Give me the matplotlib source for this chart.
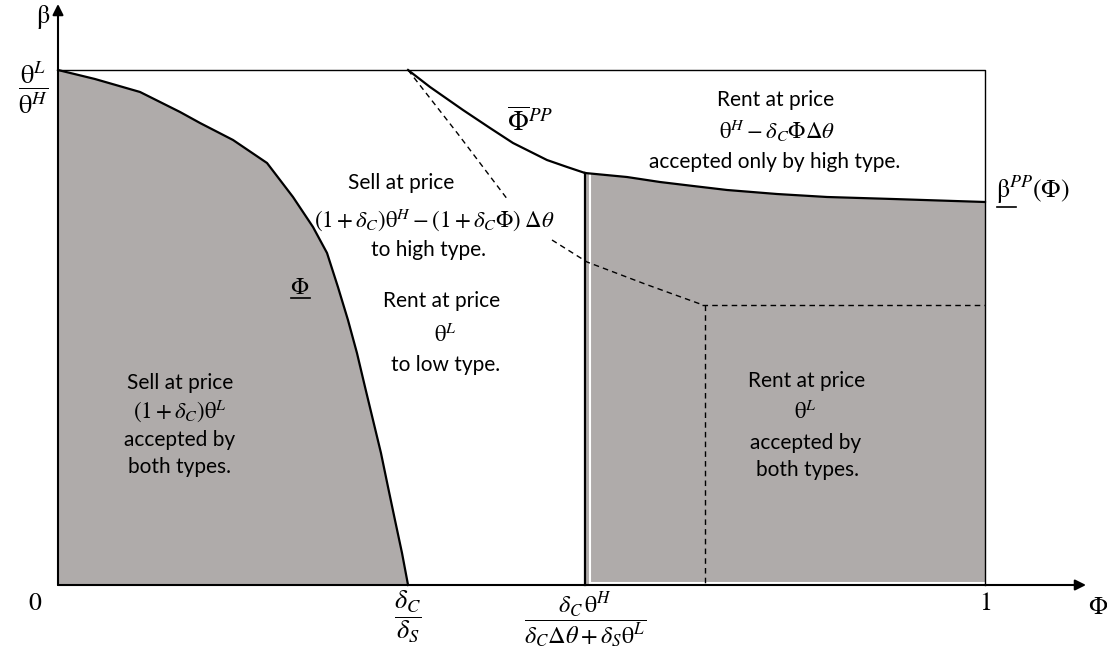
import matplotlib
matplotlib.use("Agg")
import matplotlib.pyplot as plt

plt.rcParams['mathtext.fontset'] = 'stix'
plt.rcParams['font.family'] = ['Lato', 'DejaVu Sans']

# values, Phi on x (0..1), beta on y (0..1 = thetaL/thetaH)
phi_low = [0.0, 0.0399, 0.0885, 0.1316, 0.1532, 0.1888, 0.2255, 0.2535, 0.2751, 0.2902,
           0.3020, 0.3128, 0.3225, 0.3312, 0.3398, 0.3484, 0.3560, 0.3635, 0.3711, 0.3776]
beta_low = [1.0, 0.9825, 0.9573, 0.9185, 0.8971, 0.8641, 0.8194, 0.7534, 0.6951, 0.6447,
            0.5786, 0.5146, 0.4505, 0.3845, 0.3204, 0.2563, 0.1903, 0.1262, 0.0621, 0.0]

phi_bar = [0.3776, 0.4013, 0.4369, 0.4660, 0.4908, 0.5275, 0.5491, 0.5685]
beta_bar = [1.0, 0.9670, 0.9223, 0.8874, 0.8583, 0.8252, 0.8117, 0.8000]

phi_pp = [0.5685, 0.6138, 0.6494, 0.6850, 0.7217, 0.7756, 0.8296, 0.9008, 1.0]
beta_pp = [0.8000, 0.7922, 0.7825, 0.7748, 0.7670, 0.7592, 0.7534, 0.7495, 0.7437]

phi_dash_a = [0.3776, 0.4315, 0.4854]
beta_dash_a = [1.0, 0.8757, 0.7476]
phi_dash_b = [0.5329, 0.5707, 0.6332, 0.6958]
beta_dash_b = [0.6699, 0.6272, 0.5845, 0.5437]

phi_cut = 0.5685      # deltaC thetaH / (deltaC dtheta + deltaS thetaL)
phi_corner = 0.698
beta_corner = 0.5437

grey = '#afabaa'

# pixel layout helpers
X0, Y0, SX, SY = 58, 585, 927, 515
W, H = 1107, 654


def px(x, y):
    return ((x - X0) / SX, (Y0 - y) / SY)


fig = plt.figure(figsize=(W / 100, H / 100), dpi=100)
ax = fig.add_axes([0, 0, 1, 1])
ax.set_xlim(-X0 / SX, (W - X0) / SX)
ax.set_ylim(-(H - Y0) / SY, Y0 / SY)
ax.axis('off')

# shaded regions
ax.fill_between(phi_low, beta_low, 0, color=grey, lw=0)
ax.fill_between(phi_pp, beta_pp, 0, color=grey, lw=0)
ax.plot([phi_cut + 0.005, phi_cut + 0.005], [0.004, beta_pp[0]], color='white', lw=1.5)
ax.plot([phi_cut + 0.005, 1.0], [0.004, 0.004], color='white', lw=1.5)

# box
ax.plot([0, 1, 1], [1, 1, 0], color='black', lw=1.0)

# curves
line = dict(color='black', lw=1.6, solid_joinstyle='round')
ax.plot(phi_low, beta_low, **line)
ax.plot(phi_bar, beta_bar, **line)
ax.plot(phi_pp, beta_pp, **line)
ax.plot([phi_cut, phi_cut], [0, beta_pp[0]], **line)

dash = dict(color='black', lw=1.0, linestyle=(0, (4, 3)))
ax.plot(phi_dash_a, beta_dash_a, **dash)
ax.plot(phi_dash_b, beta_dash_b, **dash)
ax.plot([phi_corner - 0.003, 1.0], [beta_corner, beta_corner], **dash)
ax.plot([phi_corner, phi_corner], [beta_corner, 0], **dash)

# axes with arrows
ax.annotate('', xy=px(1086, 585), xytext=(0, 0),
            arrowprops=dict(arrowstyle='-|>', lw=1.5, color='black', mutation_scale=16, shrinkA=0, shrinkB=0))
ax.annotate('', xy=px(58, 4), xytext=(0, 0),
            arrowprops=dict(arrowstyle='-|>', lw=1.5, color='black', mutation_scale=16, shrinkA=0, shrinkB=0))


def label(x, y, s, size=17, **kw):
    ax.text(*px(x, y), s, ha='center', va='center', fontsize=size, **kw)


# axis labels
label(43, 17, r'$\mathrm{\beta}$', 19)
label(33, 88, r'$\dfrac{\mathrm{\theta}^L}{\mathrm{\theta}^H}$', 19)
label(35, 603, r'$0$', 18.5)
label(408, 617, r'$\dfrac{\delta_C}{\delta_S}$', 19)
label(585, 620, r'$\dfrac{\delta_C\,\mathrm{\theta}^H}{\delta_C\Delta\theta+\delta_S\mathrm{\theta}^L}$', 17.5)
label(985, 603, r'$1$', 18.5)
label(1098, 606, r'$\Phi$', 18)

# curve labels
label(530, 121, r'$\overline{\Phi}^{PP}$', 19.5)
label(300, 287, r'$\Phi$', 17)
ax.plot(*zip(px(291, 298), px(310, 298)), color='black', lw=1.2)
ax.text(*px(996, 190), r'$\mathrm{\beta}^{PP}(\Phi)$', ha='left', va='center', fontsize=18.5)
ax.plot(*zip(px(997, 207), px(1016, 207)), color='black', lw=1.2)

# region texts
TS = 15
MS = 16.5
label(180, 383, 'Sell at price', TS)
label(180, 411, r'$(1+\delta_C)\mathrm{\theta}^L$', MS)
label(180, 440, 'accepted by', TS)
label(180, 467, 'both types.', TS)

label(401, 183, 'Sell at price', TS)
label(434, 220, r'$(1+\delta_C)\mathrm{\theta}^H-(1+\delta_C\Phi)\;\Delta\theta$', MS)
label(429, 250, 'to high type.', TS)
label(442, 301, 'Rent at price', TS)
label(445, 335, r'$\mathrm{\theta}^L$', MS)
label(446, 365, 'to low type.', TS)

label(776, 100, 'Rent at price', TS)
label(777, 131, r'$\mathrm{\theta}^H-\delta_C\Phi\Delta\theta$', MS)
label(775, 162, 'accepted only by high type.', TS)

label(807, 381, 'Rent at price', TS)
label(805, 412, r'$\mathrm{\theta}^L$', MS)
label(806, 443, 'accepted by', TS)
label(808, 470, 'both types.', TS)

fig.savefig('out.png', dpi=100)
